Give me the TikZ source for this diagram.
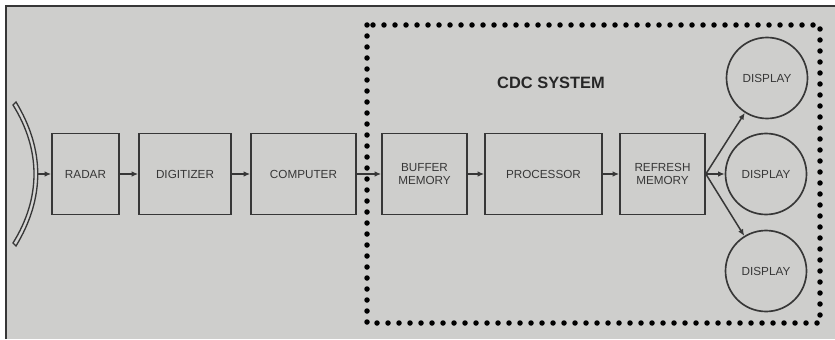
\documentclass[tikz,border=0pt]{standalone}
\usepackage{fontspec}
\setmainfont{Liberation Sans}
\usetikzlibrary{arrows.meta}
\definecolor{paperGray}{RGB}{206, 206, 204}
\definecolor{inkGray}{RGB}{55, 55, 55}
\def\px{0.3mm}

\begin{document}
\begin{tikzpicture}[x=0.3mm, y=-0.3mm,
    unit/.style={draw=inkGray, line width=0.5mm, minimum height=81*\px,
      text=inkGray, font=\fontsize{10}{11}\selectfont, align=center, inner sep=0pt},
    screen/.style={circle, draw=inkGray, line width=0.5mm, minimum size=81*\px,
      text=inkGray, font=\fontsize{10}{11}\selectfont, inner sep=0pt},
    link/.style={inkGray, line width=0.45mm, -{Latex[length=2mm, width=1.7mm]}}]
      \useasboundingbox (0,0) rectangle (835,339);
      % paper and frame
      \fill[paperGray] (5,6) rectangle (835,339);
      \draw[inkGray, line width=0.6mm] (6,339) -- (6,6) -- (835,6);
      % antenna dish
      \draw[inkGray, line width=0.4mm, fill=paperGray!85!white]
        (16,102) .. controls (45,150) and (45,198) .. (16,246)
        -- (13,243) .. controls (41,198) and (41,150) .. (13,105) -- cycle;
      \coordinate (dish) at (38,174);
      % CDC system boundary
      \draw[black, line width=1.65mm, line cap=round, dash pattern=on 0pt off 3.3mm]
        (367,25) rectangle (820,323);
      \node (cdc) at (551,83) {\fontsize{14}{16}\selectfont\bfseries\color{inkGray!70!black}CDC SYSTEM};
      % chain of units
      \node[unit, minimum width=67*\px] (radar) at (85.5,174) {RADAR};
      \node[unit, minimum width=92*\px] (digitizer) at (185,174) {DIGITIZER};
      \node[unit, minimum width=105*\px] (computer) at (303.5,174) {COMPUTER};
      \node[unit, minimum width=85*\px] (buffer) at (424.5,174) {BUFFER\\MEMORY};
      \node[unit, minimum width=117*\px] (processor) at (543.5,174) {PROCESSOR};
      \node[unit, minimum width=85*\px] (refresh) at (662.5,174) {REFRESH\\MEMORY};
      \node[screen] (disp1) at (767,78) {DISPLAY};
      \node[screen] (disp2) at (766,174) {DISPLAY};
      \node[screen] (disp3) at (766,271) {DISPLAY};
      \draw[link] (dish) -- (radar);
      \draw[link] (radar) -- (digitizer);
      \draw[link] (digitizer) -- (computer);
      \draw[link] (computer) -- (buffer);
      \draw[link] (buffer) -- (processor);
      \draw[link] (processor) -- (refresh);
      \draw[link] (refresh.east) -- (disp1);
      \draw[link] (refresh.east) -- (disp2);
      \draw[link] (refresh.east) -- (disp3);
    \end{tikzpicture}
\end{document}
